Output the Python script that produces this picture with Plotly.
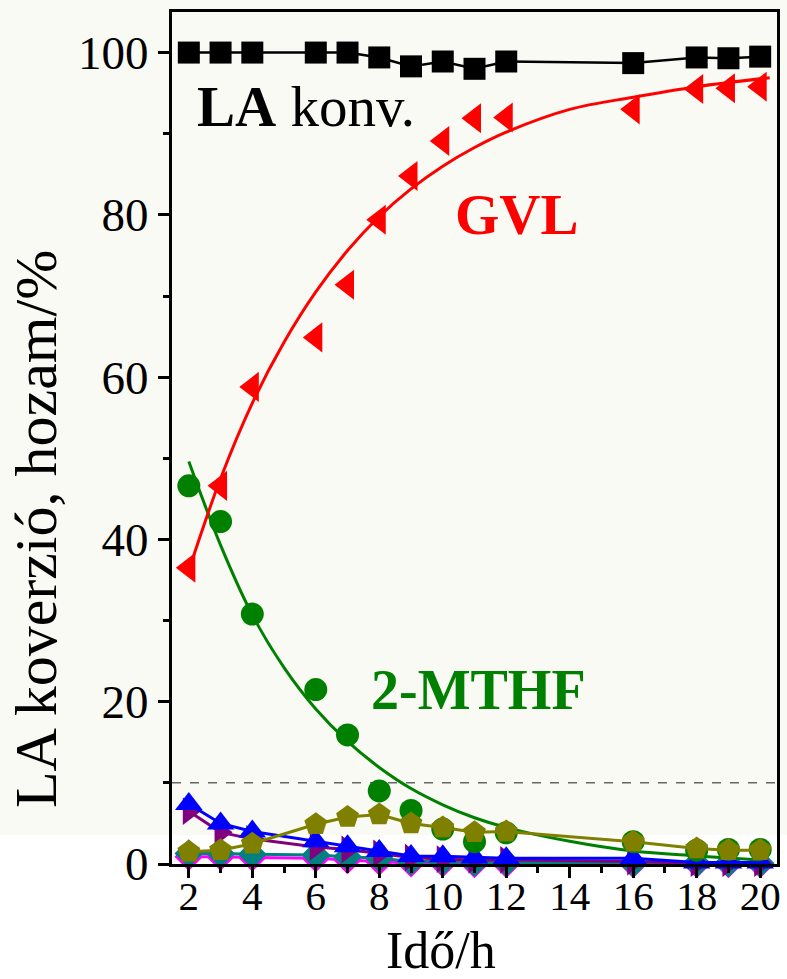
import plotly.graph_objects as go

FONT = "Liberation Serif"

time_h = [2, 3, 4, 6, 7, 8, 9, 10, 11, 12, 16, 18, 19, 20]

la_conv = [100, 100, 100, 100, 100, 99.4, 98.3, 98.9, 98.0, 98.9, 98.7, 99.4, 99.3, 99.5]
gvl = [36.5, 46.6, 58.8, 64.9, 71.4, 79.4, 84.8, 89.1, 91.9, 92.0, 93.0, 95.5, 95.6, 95.8]
mthf = [46.6, 42.2, 30.8, 21.5, 15.9, 9.0, 6.6, 4.3, 2.75, 3.85, 2.75, 1.7, 1.8, 1.8]
olive_s = [1.5, 1.7, 2.5, 4.9, 5.8, 6.1, 5.0, 4.5, 3.9, 4.0, 2.75, 1.9, 1.7, 1.7]
blue_s = [7.4, 5.0, 4.0, 2.8, 2.2, 1.6, 1.0, 0.95, 0.8, 0.7, 0.7, 0.2, 0.2, 0.2]
purple_s = [6.5, 3.9, 3.1, 2.1, 1.8, 1.3, 0.8, 0.6, 0.5, 0.5, 0.3, 0.1, 0.1, 0.1]
teal_s = [1.3, 1.3, 1.2, 1.1, 0.9, 0.7, 0.3, 0.3, 0.2, 0.2, 0.1, 0.1, 0.1, 0.1]
magenta_s = [0.9, 0.9, 0.8, 0.7, 0.5, 0.3, 0.1, 0.1, 0.0, 0.0, 0.0, 0.0, 0.0, 0.0]

# fitted curves
gvl_fit_x = [2, 3, 4, 5, 6, 7, 8, 9, 10, 11, 12, 14, 16, 18, 20.3]
gvl_fit_y = [36.2, 47.5, 56.8, 64.3, 70.5, 75.6, 79.8, 83.2, 86.0, 88.3, 90.2, 93.0, 94.5, 95.8, 96.9]
mthf_fit_x = [2, 3, 4, 5, 6, 7, 8, 9, 10, 11, 12, 14, 16, 18, 20]
mthf_fit_y = [49.6, 39.3, 30.7, 24.2, 19.1, 15.1, 11.9, 9.3, 7.3, 5.7, 4.5, 2.8, 1.6, 1.0, 0.5]

x_ticks = [2, 4, 6, 8, 10, 12, 14, 16, 18, 20]
y_ticks = [0, 20, 40, 60, 80, 100]

fig = go.Figure()

def series(y, color, symbol, size, width=3, line=True):
    fig.add_trace(go.Scatter(
        x=time_h, y=y, mode="lines+markers" if line else "markers",
        line=dict(color=color, width=width),
        marker=dict(color=color, symbol=symbol, size=size, line=dict(width=0)),
        showlegend=False, cliponaxis=False))

series(magenta_s, "#ff00ff", "diamond", 22)
series(teal_s, "#008080", "diamond", 22)
series(purple_s, "#800080", "triangle-right", 24)
series(blue_s, "#0000ff", "triangle-up", 24)

fig.add_trace(go.Scatter(x=mthf_fit_x, y=mthf_fit_y, mode="lines", line=dict(color="#008000", width=3, shape="spline"), showlegend=False))
series(mthf, "#008000", "circle", 23, line=False)
series(olive_s, "#808000", "pentagon", 24)

fig.add_trace(go.Scatter(x=gvl_fit_x, y=gvl_fit_y, mode="lines", line=dict(color="#ff0000", width=3, shape="spline"), showlegend=False))
series(gvl, "#ff0000", "triangle-left", 26, line=False)
series(la_conv, "#000000", "square", 22, width=2.5)

fig.add_shape(type="rect", xref="paper", yref="paper", x0=-0.3, x1=1.05, y0=0.034, y1=1.05,
              fillcolor="#fafaf4", line=dict(width=0), layer="below")
fig.add_shape(type="line", xref="paper", yref="y", x0=0, x1=1, y0=10, y1=10,
              line=dict(color="#666666", width=1.5, dash="dash"), layer="below")

fig.add_annotation(x=2.19, y=93.3, xref="x", yref="y", xanchor="left", yanchor="middle",
                   text="<b>LA</b> konv.", showarrow=False, font=dict(family=FONT, size=57, color="black"))
fig.add_annotation(x=10.33, y=80.0, xref="x", yref="y", xanchor="left", yanchor="middle",
                   text="<b>GVL</b>", showarrow=False, font=dict(family=FONT, size=57, color="#ff0000"))
fig.add_annotation(x=7.67, y=21.5, xref="x", yref="y", xanchor="left", yanchor="middle",
                   text="<b>2-MTHF</b>", showarrow=False, font=dict(family=FONT, size=56, color="#008000"))

fig.add_annotation(x=0.445, y=-0.101, xref="paper", yref="paper", xanchor="center", yanchor="middle",
                   text="Idő/h", showarrow=False, font=dict(family=FONT, size=52, color="black"))
fig.add_annotation(x=-0.225, y=0.393, xref="paper", yref="paper", xanchor="center", yanchor="middle",
                   text="LA koverzió, hozam/%", textangle=-90, showarrow=False,
                   font=dict(family=FONT, size=60, color="black"))

fig.update_layout(
    width=787, height=979,
    margin=dict(l=172, r=6, t=12, b=115),
    paper_bgcolor="white", plot_bgcolor="rgba(0,0,0,0)",
    font=dict(family=FONT, color="black"),
    xaxis=dict(range=[1.47, 20.53], tickvals=x_ticks, ticktext=[str(v) for v in x_ticks],
               ticks="outside", ticklen=11, tickwidth=3, tickcolor="black", ticklabelstandoff=-17,
               minor=dict(dtick=1, tick0=1, ticks="outside", ticklen=6, tickwidth=2.5, tickcolor="black"),
               showline=True, linecolor="black", linewidth=3, mirror=True,
               showgrid=False, zeroline=False, tickfont=dict(family=FONT, size=41)),
    yaxis=dict(range=[0, 105], tickvals=y_ticks, ticktext=[str(v) for v in y_ticks],
               ticks="outside", ticklen=11, tickwidth=3, tickcolor="black",
               minor=dict(dtick=10, tick0=0, ticks="outside", ticklen=6, tickwidth=2.5, tickcolor="black"),
               showline=True, linecolor="black", linewidth=3, mirror=True,
               showgrid=False, zeroline=False, tickfont=dict(family=FONT, size=47)),
)

fig.write_html("out.html", config={"displayModeBar": False},
               post_script="document.body.style.margin='0';")
